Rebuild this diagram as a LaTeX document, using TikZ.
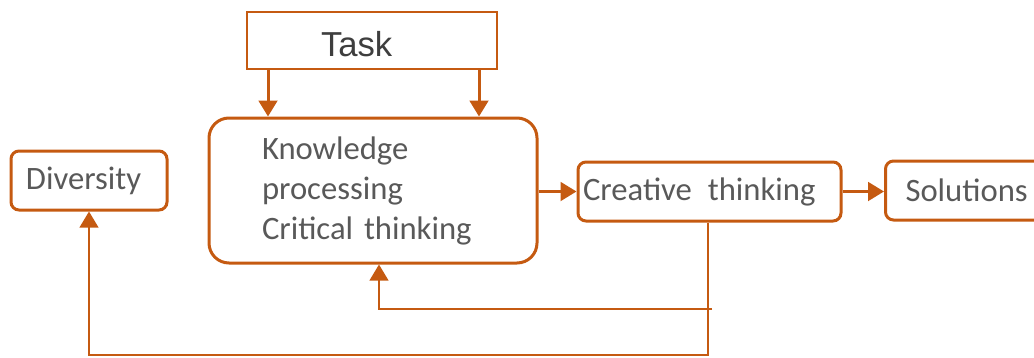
\documentclass[tikz,border=0pt]{standalone}
\usepackage{fontspec}
\setmainfont{Carlito}
\newfontfamily\taskfont{Liberation Sans}
\usetikzlibrary{arrows.meta}
\definecolor{rust}{HTML}{C55A11}
\definecolor{txtgray}{HTML}{595959}

\begin{document}
\begin{tikzpicture}[x=0.75pt,y=-0.75pt,
  box/.style={draw=rust, line width=2.25pt, rounded corners=6pt, text=txtgray,
    font=\fontsize{24.5}{30}\selectfont, minimum height=44.25pt, align=left},
  arr/.style={draw=rust, line width=2.25pt, -{Triangle[length=12pt,width=14pt]}},
  back/.style={draw=rust, line width=1.5pt, -{Triangle[length=12pt,width=14pt]}}]

\clip (0,0) rectangle (1034,357);

\node[draw=rust, line width=1.1pt, minimum width=187.5pt, minimum height=42.75pt,
  text width=76.5pt, inner xsep=55.5pt, text height=24pt, align=left,
  text=txtgray!70!black, font=\taskfont\fontsize{26}{30}\selectfont]
  (task) at (372,40.5) {Task};
\node[box, rounded corners=15pt, minimum width=246pt, minimum height=108.75pt,
  text width=166.5pt, inner xsep=39.75pt] (know) at (373,190.5)
  {Knowledge\\processing\\Critical thinking};
\node[box, minimum width=117pt, text width=94.5pt, inner xsep=11.25pt]
  (div) at (89,180.5) {Diversity};
\node[box, minimum width=197.25pt, text width=189.75pt, inner xsep=3.75pt]
  (creat) at (709.5,191.5) {Creative\hspace{12pt}thinking};
\node[box, anchor=west, minimum width=160pt, text width=130pt, inner xsep=13.5pt]
  (sol) at (884,190.5) {Solutions};

\coordinate (ta) at (268,0);
\coordinate (tb) at (479,0);
\coordinate (ka) at (379,0);
\coordinate (fa) at (712,309);
\coordinate (fb) at (708,355);

\draw[arr] (task.south -| ta) -- (know.north -| ta);
\draw[arr] (task.south -| tb) -- (know.north -| tb);
\draw[arr] (know.east |- creat) -- (creat.west);
\draw[arr] (creat.east) -- (sol.west |- creat.east);

\draw[back] (creat.south -| fb) -- (fb) -| (div.south);
\draw[back] (fa) -| (know.south -| ka);
%
\end{tikzpicture}
\end{document}
